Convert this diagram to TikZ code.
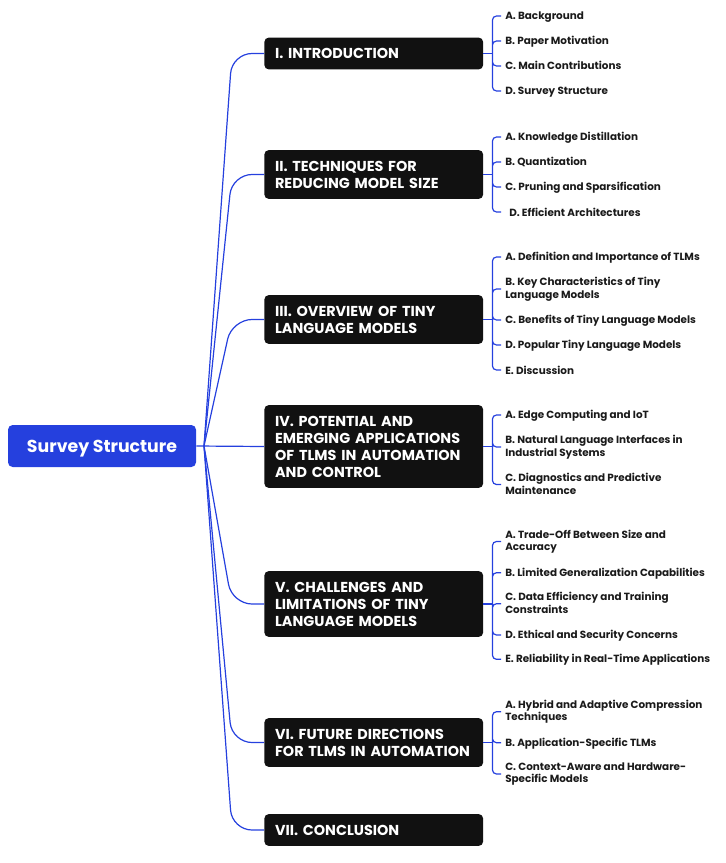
\documentclass[tikz,border=0pt]{standalone}
\usepackage{fontspec}
\setmainfont{Poppins}
\usepackage{tikz}
\usetikzlibrary{positioning,calc}

\definecolor{mapblue}{RGB}{37,64,222}
\definecolor{boxblack}{RGB}{17,17,17}
\definecolor{leafink}{RGB}{26,26,26}
\newcommand{\leafstrut}{\rule[-1.4pt]{0pt}{8.8pt}}

\begin{document}
\begin{tikzpicture}[x=0.75pt, y=-0.75pt,
    rootbox/.style={rectangle, rounded corners=3.5pt, fill=mapblue, text=white,
        font=\bfseries\fontsize{13}{16}\selectfont, text height=9pt, text depth=0pt,
        minimum width=141pt, minimum height=31.5pt},
    secbox/.style={rectangle, rounded corners=3.5pt, fill=boxblack, text=white, anchor=west,
        font=\bfseries\fontsize{10.8}{12.75}\selectfont, align=left, text width=148pt,
        inner xsep=8.1pt, inner ysep=8.1pt},
    leaf/.style={anchor=west, align=left, text=leafink, inner xsep=3pt, inner ysep=1pt,
        font=\bfseries\fontsize{7.8}{9.4}\selectfont,
        execute at begin node=\leafstrut, execute at end node=\leafstrut},
    branch/.style={draw=mapblue, line width=0.9pt, rounded corners=15pt},
    leaflink/.style={draw=mapblue, line width=0.9pt, rounded corners=3pt}]
    \useasboundingbox (0,0) rectangle (725,863);

    % root and trunk
    \node[rootbox] (root) at (102,446) {Survey Structure};
    \coordinate (org) at (204,446);
    \coordinate (trunk) at (232,446);

    % sections
    \node[secbox] (s1) at (264,53.5) {I. INTRODUCTION};
    \node[secbox] (s2) at (264,174.5) {II. TECHNIQUES FOR\\REDUCING MODEL SIZE};
    \node[secbox] (s3) at (264,319.5) {III. OVERVIEW OF TINY\\LANGUAGE MODELS};
    \node[secbox] (s4) at (264,446.5) {IV. POTENTIAL AND\\EMERGING APPLICATIONS\\OF TLMS IN AUTOMATION\\AND CONTROL};
    \node[secbox] (s5) at (264,604) {V. CHALLENGES AND\\LIMITATIONS OF TINY\\LANGUAGE MODELS};
    \node[secbox] (s6) at (264,742.5) {VI. FUTURE DIRECTIONS\\FOR TLMS IN AUTOMATION};
    \node[secbox] (s7) at (264,830) {VII. CONCLUSION};

    \draw[branch] (root.east) -- (s4.west);
    \draw[branch] (org) -- (trunk |- s1.west) -- (s1.west);
    \draw[branch] (org) -- (trunk |- s2.west) -- (s2.west);
    \draw[branch] (org) -- (trunk |- s3.west) -- (s3.west);
    \draw[branch] (org) -- (trunk |- s5.west) -- (s5.west);
    \draw[branch] (org) -- (trunk |- s6.west) -- (s6.west);
    \draw[branch] (org) -- (trunk |- s7.west) -- (s7.west);

    % I
    \node[leaf] (l1a) at (501,16) {A. Background};
    \node[leaf] (l1b) at (501,41) {B. Paper Motivation};
    \node[leaf] (l1c) at (501,66) {C. Main Contributions};
    \node[leaf] (l1d) at (501,91) {D. Survey Structure};
    \draw[leaflink] (s1.east) -- ++(9,0) coordinate (b1);
    \draw[leaflink] (b1) |- (l1a.west) (b1) |- (l1b.west) (b1) |- (l1c.west) (b1) |- (l1d.west);

    % II
    \node[leaf] (l2a) at (501,137) {A. Knowledge Distillation};
    \node[leaf] (l2b) at (501,162) {B. Quantization};
    \node[leaf] (l2c) at (501,187) {C. Pruning and Sparsification};
    \node[leaf] (l2d) at (501,212) {\hspace{3pt}D. Efficient Architectures};
    \draw[leaflink] (s2.east) -- ++(9,0) coordinate (b2);
    \draw[leaflink] (b2) |- (l2a.west) (b2) |- (l2b.west) (b2) |- (l2c.west) (b2) |- (l2d.west);

    % III
    \node[leaf] (l3a) at (501,257) {A. Definition and Importance of TLMs};
    \node[leaf] (l3b) at (501,289) {B. Key Characteristics of Tiny\\Language Models};
    \node[leaf] (l3c) at (501,320) {C. Benefits of Tiny Language Models};
    \node[leaf] (l3d) at (501,345) {D. Popular Tiny Language Models};
    \node[leaf] (l3e) at (501,370) {E. Discussion};
    \draw[leaflink] (s3.east) -- ++(9,0) coordinate (b3);
    \draw[leaflink] (b3) |- (l3a.west) (b3) |- (l3b.west) (b3) |- (l3c.west) (b3) |- (l3d.west) (b3) |- (l3e.west);

    % IV
    \node[leaf] (l4a) at (501,415) {A. Edge Computing and IoT};
    \node[leaf] (l4b) at (501,447) {B. Natural Language Interfaces in\\Industrial Systems};
    \node[leaf] (l4c) at (501,484.5) {C. Diagnostics and Predictive\\Maintenance};
    \draw[leaflink] (s4.east) -- ++(9,0) coordinate (b4);
    \draw[leaflink] (b4) |- (l4a.west) (b4) |- (l4b.west) (b4) |- (l4c.west);

    % V
    \node[leaf] (l5a) at (501,541.5) {A. Trade-Off Between Size and\\Accuracy};
    \node[leaf] (l5b) at (501,572.7) {B. Limited Generalization Capabilities};
    \node[leaf] (l5c) at (501,603.7) {C. Data Efficiency and Training\\Constraints};
    \node[leaf] (l5d) at (501,635) {D. Ethical and Security Concerns};
    \node[leaf] (l5e) at (501,659.3) {E. Reliability in Real-Time Applications};
    \draw[leaflink] (s5.east) -- ++(9,0) coordinate (b5);
    \draw[leaflink] (b5) |- (l5a.west) (b5) |- (l5b.west) (b5) |- (l5c.west) (b5) |- (l5d.west) (b5) |- (l5e.west);

    % VI
    \node[leaf] (l6a) at (501,711.7) {A. Hybrid and Adaptive Compression\\Techniques};
    \node[leaf] (l6b) at (501,742.7) {B. Application-Specific TLMs};
    \node[leaf] (l6c) at (501,774) {C. Context-Aware and Hardware-\\Specific Models};
    \draw[leaflink] (s6.east) -- ++(9,0) coordinate (b6);
    \draw[leaflink] (b6) |- (l6a.west) (b6) |- (l6b.west) (b6) |- (l6c.west);
\end{tikzpicture}
\end{document}
